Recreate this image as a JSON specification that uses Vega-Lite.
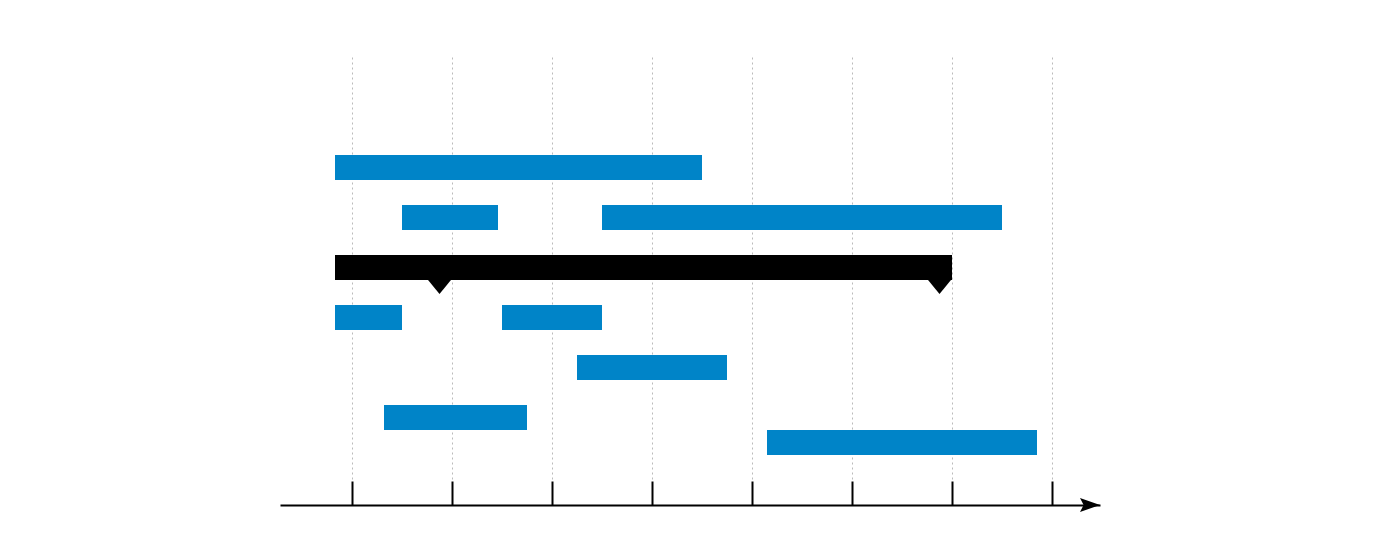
{
  "$schema": "https://vega.github.io/schema/vega-lite/v6.json",
  "width": 820,
  "height": 448,
  "autosize": {"type": "none"},
  "padding": {"left": 280, "top": 57, "right": 300, "bottom": 55},
  "background": "white",
  "config": {"view": {"stroke": null}},
  "datasets": {
    "tasks": [
      {"task": "A", "start": -0.17, "end": 3.5, "lo": 13, "hi": 14, "kind": "task"},
      {"task": "B1", "start": 0.5, "end": 1.46, "lo": 11, "hi": 12, "kind": "task"},
      {"task": "B2", "start": 2.5, "end": 6.5, "lo": 11, "hi": 12, "kind": "task"},
      {"task": "S", "start": -0.17, "end": 6.0, "lo": 9, "hi": 10, "kind": "summary"},
      {"task": "C1", "start": -0.17, "end": 0.5, "lo": 7, "hi": 8, "kind": "task"},
      {"task": "C2", "start": 1.5, "end": 2.5, "lo": 7, "hi": 8, "kind": "task"},
      {"task": "D", "start": 2.25, "end": 3.75, "lo": 5, "hi": 6, "kind": "task"},
      {"task": "E", "start": 0.32, "end": 1.75, "lo": 3, "hi": 4, "kind": "task"},
      {"task": "F", "start": 4.15, "end": 6.85, "lo": 2, "hi": 3, "kind": "task"}
    ],
    "milestones": [
      {"at": 0.875, "row": 9},
      {"at": 5.875, "row": 9}
    ],
    "arrow": [
      {"at": 7.48, "row": 0}
    ]
  },
  "layer": [
    {
      "data": {"name": "tasks"},
      "mark": {"type": "rect"},
      "encoding": {
        "x": {
          "field": "start",
          "type": "quantitative",
          "scale": {"domain": [-0.72, 7.48], "nice": false, "zero": false},
          "axis": {
            "values": [0, 1, 2, 3, 4, 5, 6, 7],
            "labels": false,
            "title": null,
            "domain": true,
            "domainColor": "#000000",
            "domainWidth": 2,
            "ticks": true,
            "tickColor": "#000000",
            "tickWidth": 2,
            "tickSize": -24,
            "grid": true,
            "gridColor": "#bbbbbb",
            "gridDash": [2, 3],
            "gridWidth": 1
          }
        },
        "x2": {"field": "end"},
        "y": {
          "field": "lo",
          "type": "quantitative",
          "scale": {"domain": [0, 17.92], "nice": false, "zero": false},
          "axis": null
        },
        "y2": {"field": "hi"},
        "color": {
          "field": "kind",
          "type": "nominal",
          "scale": {"domain": ["task", "summary"], "range": ["#0084c8", "#000000"]},
          "legend": null
        }
      }
    },
    {
      "data": {"name": "milestones"},
      "mark": {
        "type": "point",
        "shape": "M-1,-0.1 L1,-0.1 L0,1.12 Z",
        "filled": true,
        "color": "#000000",
        "opacity": 1,
        "size": 625,
        "strokeWidth": 0
      },
      "encoding": {
        "x": {"field": "at", "type": "quantitative"},
        "y": {"field": "row", "type": "quantitative"}
      }
    },
    {
      "data": {"name": "arrow"},
      "mark": {
        "type": "point",
        "shape": "M-1,-0.35 L0,0 L-1,0.35 L-0.82,0 Z",
        "filled": true,
        "color": "#000000",
        "opacity": 1,
        "size": 1600,
        "strokeWidth": 0,
        "clip": false
      },
      "encoding": {
        "x": {"field": "at", "type": "quantitative"},
        "y": {"field": "row", "type": "quantitative"}
      }
    }
  ]
}
